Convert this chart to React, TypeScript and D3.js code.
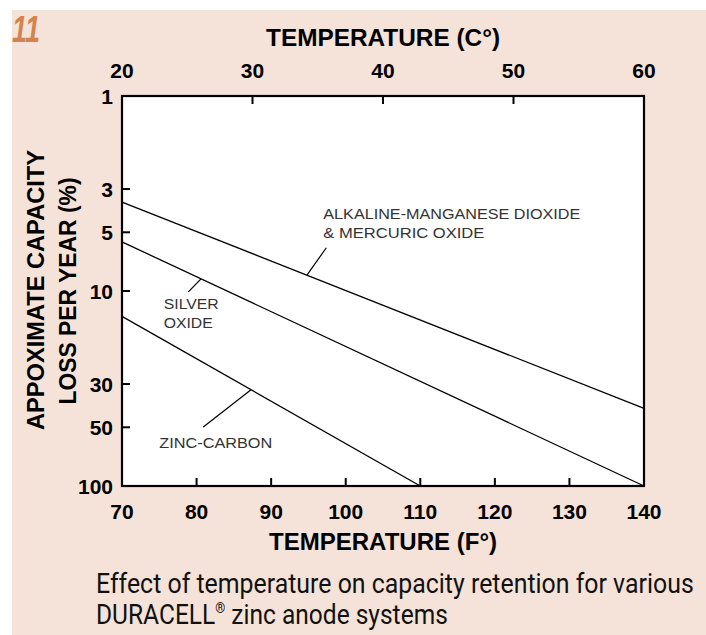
import { useLayoutEffect, useRef, useState } from 'react'
import * as d3 from 'd3'

// axis ticks
const fahrenheitTicks = [70, 80, 90, 100, 110, 120, 130, 140]
const celsiusTicks = [20, 30, 40, 50, 60]
const lossTicks = [1, 3, 5, 10, 30, 50, 100]

// series: [temperature °F, loss %/yr] end points
const alkalineTemps = [70, 140]
const alkalineLoss = [3.5, 40]
const silverTemps = [70, 140]
const silverLoss = [5.6, 100]
const zincTemps = [70, 110]
const zincLoss = [13.5, 100]

const seriesList = [
    { name: 'alkaline', temps: alkalineTemps, loss: alkalineLoss },
    { name: 'silver', temps: silverTemps, loss: silverLoss },
    { name: 'zinc', temps: zincTemps, loss: zincLoss },
]

// callouts in data units: text anchor, leader end, leader touch point on the series
const callouts = [
    { series: 'alkaline', lines: ['ALKALINE-MANGANESE DIOXIDE', '& MERCURIC OXIDE'], widths: [257, 161], textAt: [97.0, 4.27], from: [97.4, 6.0], touch: 94.8 },
    { series: 'silver', lines: ['SILVER', 'OXIDE'], widths: [55, 49], textAt: [75.6, 12.4], from: [78.9, 10.1], touch: 80.6 },
    { series: 'zinc', lines: ['ZINC-CARBON'], widths: [113], textAt: [75.0, 63.9], from: [80.9, 49.8], touch: 87.3 },
]

const W = 706
const H = 635
const left = 122
const right = 644
const top = 96
const bottom = 486

const x = d3.scaleLinear().domain([70, 140]).range([left, right])
const xc = d3.scaleLinear().domain([20, 60]).range([left, right])
const y = d3.scaleLog().domain([1, 100]).range([top, bottom])

const lossAt = (name: string, t: number) => {
    const s = seriesList.find(d => d.name === name)!
    const k = (t - s.temps[0]) / (s.temps[1] - s.temps[0])
    return Math.exp(Math.log(s.loss[0]) + k * (Math.log(s.loss[1]) - Math.log(s.loss[0])))
}

const line = d3.line<[number, number]>()
    .x(d => x(d[0]))
    .y(d => y(d[1]))

const sans = 'Liberation Sans, Arial, sans-serif'
const narrow = 'Liberation Sans Narrow, Roboto, sans-serif'

// squeezes a text horizontally so it spans the given width
const FitText = ({ x, y, width, children }: { x: number; y: number; width: number; children: any }) => {
    const ref = useRef<SVGTextElement | null>(null)
    const [k, setK] = useState(1)
    useLayoutEffect(() => {
        if (!ref.current) return
        const w = ref.current.getComputedTextLength()
        if (w > 0) setK(width / w)
    }, [width])
    return (
        <text ref={ref} transform={`translate(${x},${y}) scale(${k},1)`}>{children}</text>
    )
}

const App = () => {
    return (
        <svg width={W} height={H} style={{ position: 'absolute', left: 0, top: 0, background: '#fff' }}>
            <rect x={12} y={10} width={W - 12} height={H - 10} fill="#f5e3d9" />
            <text x={12} y={42} fill="#d4834d" fontFamily={sans} fontWeight="bold" fontStyle="italic" fontSize={36} textLength={28} lengthAdjust="spacingAndGlyphs">11</text>

            <rect x={left} y={top} width={right - left} height={bottom - top} fill="#fff" stroke="#000" strokeWidth={2.2} />

            {fahrenheitTicks.slice(1, -1).map(t => (
                <line key={'bf' + t} x1={x(t)} x2={x(t)} y1={bottom} y2={bottom - 8} stroke="#000" strokeWidth={2} />
            ))}
            {celsiusTicks.slice(1, -1).map(t => (
                <line key={'tc' + t} x1={xc(t)} x2={xc(t)} y1={top} y2={top + 8} stroke="#000" strokeWidth={2} />
            ))}
            {lossTicks.slice(1, -1).map(t => (
                <line key={'yl' + t} x1={left} x2={left + 8} y1={y(t)} y2={y(t)} stroke="#000" strokeWidth={2} />
            ))}

            <g fontFamily={sans} fontWeight="bold" fontSize={21} fill="#000">
                {fahrenheitTicks.map(t => (
                    <text key={'bl' + t} x={x(t)} y={519} textAnchor="middle">{t}</text>
                ))}
                {celsiusTicks.map(t => (
                    <text key={'tl' + t} x={xc(t)} y={78} textAnchor="middle">{t}</text>
                ))}
                {lossTicks.map(t => (
                    <text key={'ll' + t} x={113} y={y(t) + 7.5} textAnchor="end">{t}</text>
                ))}
            </g>

            <g fontFamily={sans} fontWeight="bold" fontSize={23} fill="#000">
                <text x={383} y={46} textAnchor="middle" textLength={234} lengthAdjust="spacingAndGlyphs">TEMPERATURE (C°)</text>
                <text x={383} y={550} textAnchor="middle" textLength={228} lengthAdjust="spacingAndGlyphs">TEMPERATURE (F°)</text>
                <text transform="translate(44,290) rotate(-90)" textAnchor="middle" textLength={280} lengthAdjust="spacingAndGlyphs">APPOXIMATE CAPACITY</text>
                <text transform="translate(76,291) rotate(-90)" textAnchor="middle" textLength={227} lengthAdjust="spacingAndGlyphs">LOSS PER YEAR (%)</text>
            </g>

            {seriesList.map(s => (
                <path key={s.name} d={line(s.temps.map((t, i) => [t, s.loss[i]] as [number, number]))!} fill="none" stroke="#000" strokeWidth={1.3} />
            ))}

            <g fontFamily={sans} fontSize={15.5} fill="#333">
                {callouts.map(c => (
                    <g key={c.series}>
                        <line x1={x(c.from[0])} y1={y(c.from[1])} x2={x(c.touch)} y2={y(lossAt(c.series, c.touch))} stroke="#000" strokeWidth={1.2} />
                        {c.lines.map((l, i) => (
                            <text key={i} x={x(c.textAt[0])} y={y(c.textAt[1]) + i * 19} textLength={c.widths[i]} lengthAdjust="spacingAndGlyphs">{l}</text>
                        ))}
                    </g>
                ))}
            </g>

            <g fontFamily={narrow} fontSize={27} fill="#111">
                <FitText x={96} y={593} width={598}>Effect of temperature on capacity retention for various</FitText>
                <FitText x={96} y={624} width={352}>
                    DURACELL<tspan fontSize={14} dy={-11}>®</tspan><tspan dy={11}> zinc anode systems</tspan>
                </FitText>
            </g>
        </svg>
    )
}

export default App
